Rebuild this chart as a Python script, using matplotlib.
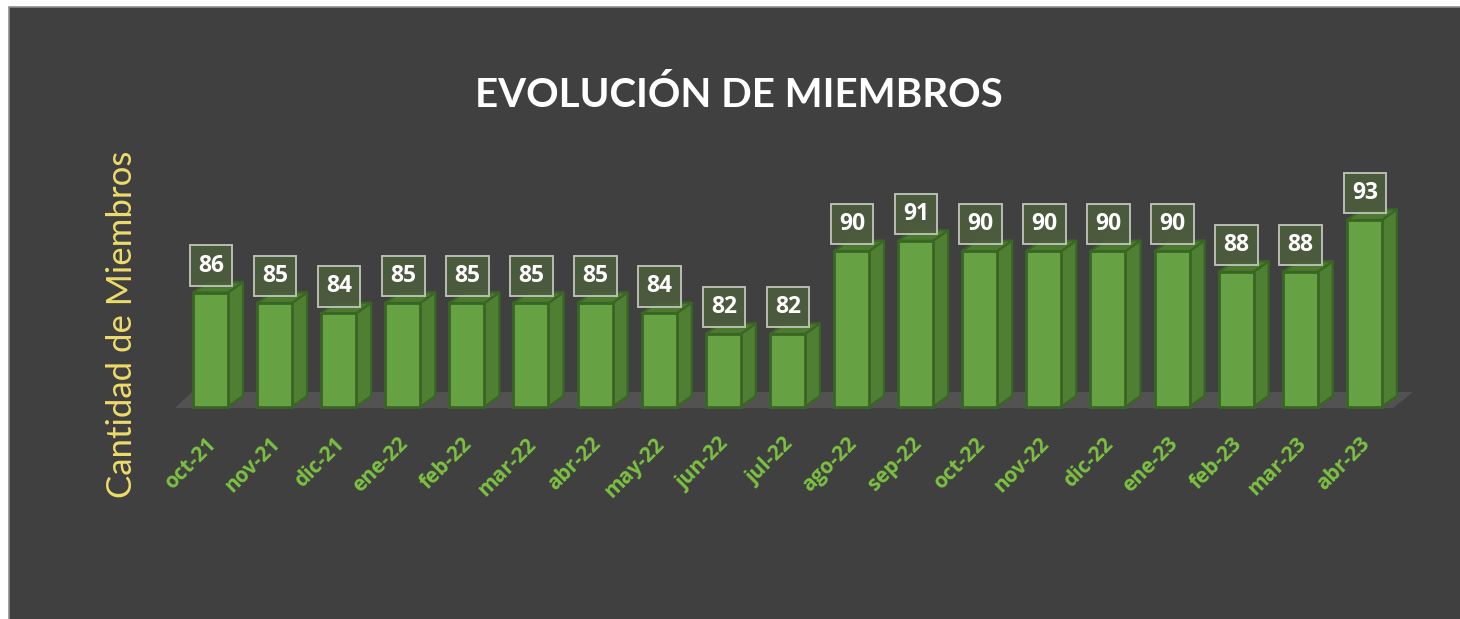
import matplotlib
matplotlib.use("Agg")
import matplotlib.pyplot as plt
from matplotlib.patches import Polygon, Rectangle
import matplotlib.transforms as mtransforms
import numpy as np

# ---- data ----
months = ["oct-21", "nov-21", "dic-21", "ene-22", "feb-22", "mar-22", "abr-22",
          "may-22", "jun-22", "jul-22", "ago-22", "sep-22", "oct-22", "nov-22",
          "dic-22", "ene-23", "feb-23", "mar-23", "abr-23"]
members = [86, 85, 84, 85, 85, 85, 85, 84, 82, 82, 90, 91, 90, 90, 90, 90, 88, 88, 93]
title = "EVOLUCIÓN DE MIEMBROS"
ylabel = "Cantidad de Miembros"

# ---- style ----
W, H, DPI = 1460, 619, 100
BG = "#404040"
FRONT = "#66a243"
SIDE = "#4f7f33"
TOP = "#4b7a30"
EDGE = "#3a6624"
FLOOR = "#525252"
BOX_FC = (0.30, 0.37, 0.24, 0.85)
BOX_EC = "#b8beb4"
TICK_C = "#7cc242"
YLAB_C = "#eedc6a"
FONT = "Lato"
FONT_B = "Open Sans"

base = 75.0
xlim = (-0.7, 18.9)
ylim = (74, 96)
ax_px = (165.6, 188.96, 1422.0, 416.9)  # left, top, right, bottom in pixels

fig = plt.figure(figsize=(W / DPI, H / DPI), dpi=DPI, facecolor="white")
fig.patches.append(Rectangle((9 / W, -0.05), 1.05, 1.05 - 7 / H, transform=fig.transFigure,
                             facecolor=BG, edgecolor="#8e8e8e", linewidth=1.2, zorder=-10))

l, t, r, b = ax_px
ax = fig.add_axes([l / W, 1 - b / H, (r - l) / W, (b - t) / H])
ax.set_facecolor("none")
ax.set_xlim(*xlim)
ax.set_ylim(*ylim)
for s in ax.spines.values():
    s.set_visible(False)
ax.set_yticks([])

x = np.arange(len(months))
vals = np.array(members, dtype=float)
w = 0.546
dx, dy = 0.234, 1.02

# floor
ax.add_patch(Polygon([(-0.554, 74.86), (18.45, 74.86), (18.76, 76.4), (-0.289, 76.4)],
                     closed=True, facecolor=FLOOR, edgecolor="none", zorder=1))

# bars (front face via library bars, depth faces via polygons)
ax.bar(x, vals - base, bottom=base, width=w, color=FRONT, edgecolor=EDGE,
       linewidth=2, zorder=3)
for xi, v in zip(x, vals):
    xr = xi + w / 2
    xl = xi - w / 2
    ax.add_patch(Polygon([(xr, base), (xr + dx, base + dy), (xr + dx, v + dy), (xr, v)],
                         closed=True, facecolor=SIDE, edgecolor=EDGE, linewidth=1.6,
                         joinstyle="round", zorder=2.5))
    ax.add_patch(Polygon([(xl, v), (xr, v), (xr + dx, v + dy), (xl + dx, v + dy)],
                         closed=True, facecolor=TOP, edgecolor=EDGE, linewidth=1.6,
                         joinstyle="round", zorder=2.5))
    ax.annotate(f"{int(v)}", (xi, v), xytext=(0.5, 27), textcoords="offset pixels",
                ha="center", va="center", color="white", fontsize=16.5,
                fontweight="bold", family=FONT_B, zorder=5,
                bbox=dict(boxstyle="square,pad=0.36", facecolor=BOX_FC,
                          edgecolor=BOX_EC, linewidth=1.4))

ax.set_xticks(x)
ax.set_xticklabels(months, rotation=45, ha="right", va="top", rotation_mode="anchor",
                   color=TICK_C, fontsize=15, fontweight="bold", family=FONT_B)
ax.tick_params(axis="x", length=0, pad=12)
shift = mtransforms.ScaledTranslation(-5 / DPI, 0, fig.dpi_scale_trans)
for lab in ax.get_xticklabels():
    lab.set_transform(lab.get_transform() + shift)

fig.text(739 / W, 1 - 107 / H, title, ha="center", va="baseline", color="white",
         fontsize=29, fontweight="bold", family=FONT)
fig.text(122 / W, 1 - 324.5 / H, ylabel, ha="center", va="center", rotation=90,
         color=YLAB_C, fontsize=25, family=FONT)

fig.savefig("out.png", dpi=DPI, facecolor=fig.get_facecolor())
